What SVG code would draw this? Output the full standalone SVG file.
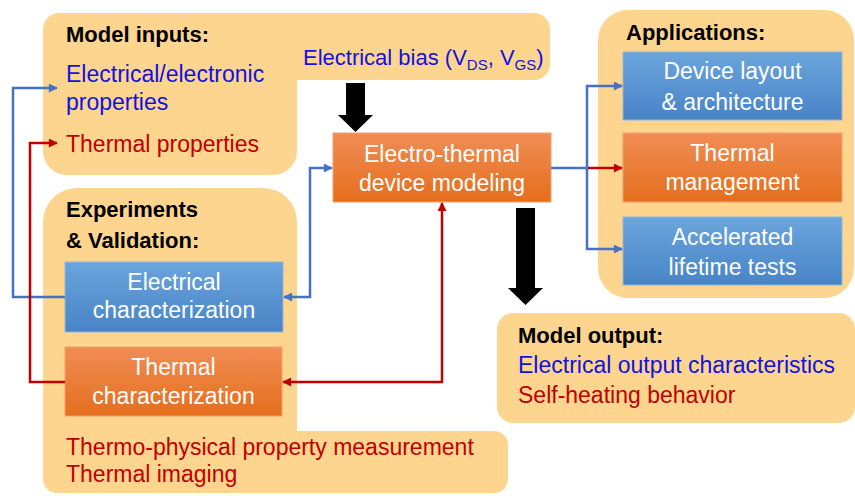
<svg xmlns="http://www.w3.org/2000/svg" width="855" height="496" viewBox="0 0 855 496">
<defs>
<linearGradient id="gBlue" x1="0" y1="0" x2="0" y2="1"><stop offset="0" stop-color="#6BA5DD"/><stop offset="1" stop-color="#4883C6"/></linearGradient>
<linearGradient id="gOrange" x1="0" y1="0" x2="0" y2="1"><stop offset="0" stop-color="#F08D55"/><stop offset="1" stop-color="#E56E1C"/></linearGradient>
<marker id="aBlue" viewBox="0 0 10 10" refX="9" refY="5" markerWidth="10" markerHeight="9" markerUnits="userSpaceOnUse" orient="auto-start-reverse"><path d="M0,0 L10,5 L0,10 Z" fill="#4472C4"/></marker>
<marker id="aRed" viewBox="0 0 10 10" refX="9" refY="5" markerWidth="10" markerHeight="9" markerUnits="userSpaceOnUse" orient="auto-start-reverse"><path d="M0,0 L10,5 L0,10 Z" fill="#C00000"/></marker>
<style>
.grp{fill:#FDD58E}
.blue{fill:url(#gBlue);stroke:#8FB8E2;stroke-width:1}
.orange{fill:url(#gOrange);stroke:#F2A06E;stroke-width:1}
text{font-family:"Liberation Sans",Arial,sans-serif;font-size:23px}
.h{font-weight:bold;font-size:22px;fill:#000}
.bt{fill:#1212E0}
.rt{fill:#C00000}
.w{fill:#FFFFFF;text-anchor:middle}
.bias{font-size:22px}
.sub{font-size:15px}
.cb{fill:none;stroke:#4472C4;stroke-width:2.5}
.cr{fill:none;stroke:#C00000;stroke-width:2.5}
.big{fill:#000}
</style>
</defs>

<g id="model-inputs">
<rect class="grp" x="43" y="13" width="254" height="162" rx="24"/>
<rect class="grp" x="43" y="13" width="507" height="67" rx="16"/>
<text class="h" x="66" y="42">Model inputs:</text>
<text class="bt" x="66" y="82">Electrical/electronic</text>
<text class="bt" x="66" y="110">properties</text>
<text class="rt" x="66" y="152">Thermal properties</text>
<text class="bt bias" x="303" y="65">Electrical bias (V<tspan class="sub" dy="5">DS</tspan><tspan dy="-5">, V</tspan><tspan class="sub" dy="5">GS</tspan><tspan dy="-5">)</tspan></text>
</g>

<g id="experiments">
<rect class="grp" x="43" y="431" width="465" height="62" rx="14"/>
<rect class="grp" x="43" y="188" width="254" height="305" rx="34"/>
<text class="h" x="66" y="217">Experiments</text>
<text class="h" x="66" y="248">&amp; Validation:</text>
<text class="rt" x="66" y="455">Thermo-physical property measurement</text>
<text class="rt" x="66" y="482">Thermal imaging</text>
</g>

<g id="electrical-characterization">
<rect class="blue" x="65" y="262" width="218" height="70"/>
<text class="w" x="174" y="290">Electrical</text>
<text class="w" x="174" y="318">characterization</text>
</g>

<g id="thermal-characterization">
<rect class="orange" x="65" y="347" width="217" height="69"/>
<text class="w" x="173.5" y="375">Thermal</text>
<text class="w" x="173.5" y="404">characterization</text>
</g>

<g id="electro-thermal-modeling">
<rect class="orange" x="333" y="133" width="218" height="69"/>
<text class="w" x="442" y="162">Electro-thermal</text>
<text class="w" x="442" y="191">device modeling</text>
</g>

<g id="applications">
<rect class="grp" x="598" y="10" width="256" height="288" rx="30"/>
<text class="h" x="626" y="40">Applications:</text>
</g>

<g id="device-layout">
<rect class="blue" x="623" y="52" width="219" height="68"/>
<text class="w" x="732.5" y="79">Device layout</text>
<text class="w" x="732.5" y="110">&amp; architecture</text>
</g>

<g id="thermal-management">
<rect class="orange" x="623" y="133" width="219" height="69"/>
<text class="w" x="732.5" y="161">Thermal</text>
<text class="w" x="732.5" y="190">management</text>
</g>

<g id="lifetime-tests">
<rect class="blue" x="623" y="217" width="219" height="68"/>
<text class="w" x="732.5" y="245">Accelerated</text>
<text class="w" x="732.5" y="275">lifetime tests</text>
</g>

<g id="model-output">
<rect class="grp" x="497" y="313" width="358" height="110" rx="16"/>
<text class="h" x="518" y="343">Model output:</text>
<text class="bt" x="518" y="373">Electrical output characteristics</text>
<text class="rt" x="518" y="403">Self-heating behavior</text>
</g>

<g id="connectors">
<path class="big" d="M346,83 H365 V115 H373 L355.5,132 L338,115 H346 Z"/>
<path class="big" d="M516,208 H535 V288 H543 L525.5,305 L508,288 H516 Z"/>
<path class="cb" d="M65,297 H13 V88 H57" marker-end="url(#aBlue)"/>
<path class="cr" d="M65,382 H30 V143 H57" marker-end="url(#aRed)"/>
<path class="cb" d="M332,168 H310 V297 H284" marker-start="url(#aBlue)" marker-end="url(#aBlue)"/>
<path class="cr" d="M442,203 V382 H283" marker-start="url(#aRed)" marker-end="url(#aRed)"/>
<path class="cb" d="M551,168 H587"/>
<path class="cb" d="M622,86 H587 V249 H622" marker-start="url(#aBlue)" marker-end="url(#aBlue)"/>
<path class="cr" d="M588,168 H622" marker-end="url(#aRed)"/>
</g>
</svg>
